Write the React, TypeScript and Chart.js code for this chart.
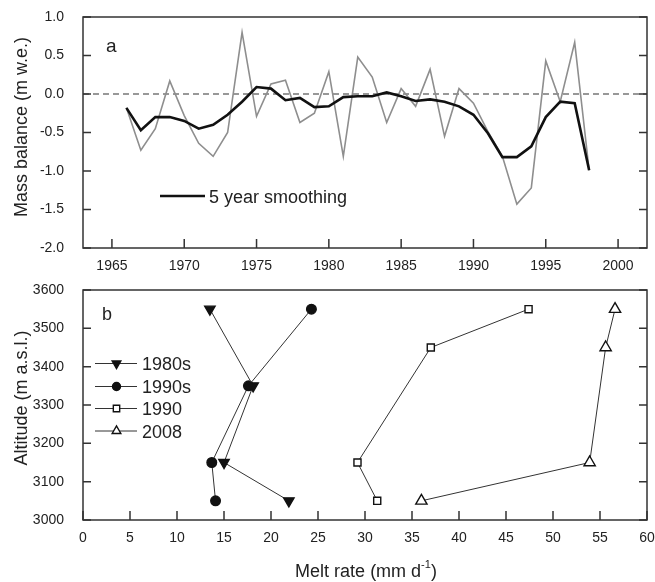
import React, { useEffect, useRef } from "react";
import { Chart, registerables } from "chart.js";

Chart.register(...registerables);

// ---------- Panel a: mass balance ----------
const years = [
  1966, 1967, 1968, 1969, 1970, 1971, 1972, 1973, 1974, 1975, 1976,
  1977, 1978, 1979, 1980, 1981, 1982, 1983, 1984, 1985, 1986, 1987,
  1988, 1989, 1990, 1991, 1992, 1993, 1994, 1995, 1996, 1997, 1998,
];
const annualBalance = [
  -0.18, -0.73, -0.45, 0.17, -0.28, -0.64, -0.81, -0.5, 0.8, -0.29, 0.13,
  0.18, -0.37, -0.25, 0.29, -0.81, 0.48, 0.22, -0.37, 0.07, -0.16, 0.32,
  -0.55, 0.07, -0.12, -0.49, -0.81, -1.43, -1.22, 0.43, -0.1, 0.67, -0.99,
];
const smoothedBalance = [
  -0.18, -0.47, -0.3, -0.3, -0.35, -0.45, -0.4, -0.27, -0.1, 0.09, 0.07,
  -0.08, -0.05, -0.17, -0.16, -0.04, -0.03, -0.03, 0.02, -0.03, -0.09, -0.07,
  -0.1, -0.16, -0.27, -0.51, -0.82, -0.82, -0.68, -0.3, -0.1, -0.12, -0.99,
];
const yearTicks = [1965, 1970, 1975, 1980, 1985, 1990, 1995, 2000];
const smoothLabel = "5 year smoothing";

// ---------- Panel b: melt rate vs altitude ----------
const seriesLabels = ["1980s", "1990s", "1990", "2008"];
const altitudesDecades = [3550, 3350, 3150, 3050];
const altitudesYears = [3550, 3450, 3150, 3050];
const melt1980s = [13.5, 18.1, 15.0, 21.9];
const melt1990s = [24.3, 17.6, 13.7, 14.1];
const melt1990 = [47.4, 37.0, 29.2, 31.3];
const melt2008 = [56.6, 55.6, 53.9, 36.0];

const FONT = "'Liberation Sans', Arial, Helvetica, sans-serif";
const TEXT = "#222";
const FRAME = "#333";

function framePlugin(opts: { zeroLine?: boolean }) {
  return {
    id: "frameTicks",
    beforeDatasetsDraw(chart: any) {
      if (!opts.zeroLine) return;
      const { ctx, chartArea: a, scales } = chart;
      const y0 = scales.y.getPixelForValue(0);
      ctx.save();
      ctx.strokeStyle = "#333";
      ctx.lineWidth = 1.2;
      ctx.setLineDash([6, 4]);
      ctx.beginPath();
      ctx.moveTo(a.left, y0);
      ctx.lineTo(a.right, y0);
      ctx.stroke();
      ctx.restore();
    },
    afterDraw(chart: any) {
      const { ctx, chartArea: a, scales } = chart;
      ctx.save();
      ctx.strokeStyle = FRAME;
      ctx.lineWidth = 1.5;
      ctx.strokeRect(a.left, a.top, a.right - a.left, a.bottom - a.top);
      ctx.beginPath();
      scales.x.ticks.forEach((t: any) => {
        const px = scales.x.getPixelForValue(t.value);
        ctx.moveTo(px, a.bottom);
        ctx.lineTo(px, a.bottom - 9);
      });
      scales.y.ticks.forEach((t: any) => {
        const py = scales.y.getPixelForValue(t.value);
        ctx.moveTo(a.left, py);
        ctx.lineTo(a.left + 8, py);
        ctx.moveTo(a.right, py);
        ctx.lineTo(a.right - 8, py);
      });
      ctx.stroke();
      ctx.restore();
    },
  };
}

function drawMarker(ctx: CanvasRenderingContext2D, style: string, x: number, y: number, r: number, fill: string) {
  ctx.save();
  ctx.fillStyle = fill;
  ctx.strokeStyle = "#111";
  ctx.lineWidth = 1.4;
  ctx.beginPath();
  if (style === "triDown") {
    ctx.moveTo(x - r * 0.866, y - r * 0.5);
    ctx.lineTo(x + r * 0.866, y - r * 0.5);
    ctx.lineTo(x, y + r);
    ctx.closePath();
  } else if (style === "triUp") {
    ctx.moveTo(x - r * 0.866, y + r * 0.5);
    ctx.lineTo(x + r * 0.866, y + r * 0.5);
    ctx.lineTo(x, y - r);
    ctx.closePath();
  } else if (style === "circle") {
    ctx.arc(x, y, r, 0, Math.PI * 2);
  } else {
    const s = r * 0.7071;
    ctx.rect(x - s, y - s, 2 * s, 2 * s);
  }
  ctx.fill();
  ctx.stroke();
  ctx.restore();
}

const topDecor = {
  id: "topDecor",
  afterDraw(chart: any) {
    const ctx = chart.ctx as CanvasRenderingContext2D;
    ctx.save();
    ctx.fillStyle = TEXT;
    ctx.font = `19px ${FONT}`;
    ctx.textBaseline = "alphabetic";
    ctx.fillText("a", 106, 52);
    // legend
    ctx.strokeStyle = "#111";
    ctx.lineWidth = 2.6;
    ctx.beginPath();
    ctx.moveTo(160, 196);
    ctx.lineTo(205, 196);
    ctx.stroke();
    ctx.font = `18px ${FONT}`;
    ctx.fillText(chart.data.datasets[0].label, 209, 203);
    // y title
    ctx.translate(27, 127);
    ctx.rotate(-Math.PI / 2);
    ctx.textAlign = "center";
    ctx.fillText("Mass balance (m w.e.)", 0, 0);
    ctx.restore();
  },
};

const bottomDecor = {
  id: "bottomDecor",
  afterDraw(chart: any) {
    const ctx = chart.ctx as CanvasRenderingContext2D;
    ctx.save();
    ctx.fillStyle = TEXT;
    ctx.font = `18px ${FONT}`;
    ctx.textBaseline = "alphabetic";
    ctx.fillText("b", 102, 45);
    // legend
    const rowsY = [88.5, 111.5, 133.5, 156];
    const styles = ["triDown", "circle", "rect", "triUp"];
    const fills = ["#111", "#111", "#fff", "#fff"];
    const radii = [5, 4, 4.5, 5];
    chart.data.datasets.forEach((ds: any, i: number) => {
      const y = rowsY[i];
      ctx.strokeStyle = "#333";
      ctx.lineWidth = 1;
      ctx.beginPath();
      ctx.moveTo(95, y);
      ctx.lineTo(137, y);
      ctx.stroke();
      drawMarker(ctx, styles[i], 116.5, y, radii[i], fills[i]);
      ctx.fillStyle = TEXT;
      ctx.font = `18px ${FONT}`;
      ctx.fillText(ds.label, 142, y + 6.5);
    });
    // x title with superscript
    const main = "Melt rate (mm d";
    const sup = "-1";
    const end = ")";
    ctx.font = `18px ${FONT}`;
    const wMain = ctx.measureText(main).width;
    const wEnd = ctx.measureText(end).width;
    ctx.font = `11px ${FONT}`;
    const wSup = ctx.measureText(sup).width;
    const total = wMain + wSup + wEnd;
    let x = 366 - total / 2;
    const base = 302;
    ctx.font = `18px ${FONT}`;
    ctx.fillText(main, x, base);
    x += wMain;
    ctx.font = `11px ${FONT}`;
    ctx.fillText(sup, x, base - 9);
    x += wSup;
    ctx.font = `18px ${FONT}`;
    ctx.fillText(end, x, base);
    // y title
    ctx.translate(27, 123);
    ctx.rotate(-Math.PI / 2);
    ctx.textAlign = "center";
    ctx.fillText("Altitude (m a.s.l.)", 0, 0);
    ctx.restore();
  },
};

const tickFont = { family: FONT, size: 14 };

const fitX = (h: number) => (s: any) => {
  s.height = h;
  s.paddingLeft = 0;
  s.paddingRight = 0;
  s.paddingTop = 0;
  s.paddingBottom = 0;
};
const fitY = (w: number) => (s: any) => {
  s.width = w;
  s.paddingLeft = 0;
  s.paddingRight = 0;
  s.paddingTop = 0;
  s.paddingBottom = 0;
};

export default function App() {
  const topRef = useRef<HTMLCanvasElement>(null);
  const botRef = useRef<HTMLCanvasElement>(null);

  useEffect(() => {
    const top = new Chart(topRef.current!, {
      type: "line",
      data: {
        datasets: [
          {
            label: smoothLabel,
            data: years.map((yr, i) => ({ x: yr, y: smoothedBalance[i] })),
            borderColor: "#111",
            borderWidth: 2.6,
            pointRadius: 0,
            order: 0,
          },
          {
            label: "Annual",
            data: years.map((yr, i) => ({ x: yr, y: annualBalance[i] })),
            borderColor: "#8e8e8e",
            borderWidth: 1.6,
            pointRadius: 0,
            order: 1,
          },
        ],
      },
      options: {
        responsive: false,
        animation: false,
        devicePixelRatio: 1,
        layout: { padding: { left: 0, right: 8, top: 17, bottom: 0 } },
        plugins: { legend: { display: false }, tooltip: { enabled: false } },
        scales: {
          x: {
            type: "linear",
            min: 1963,
            max: 2002,
            afterBuildTicks: (s: any) => {
              s.ticks = yearTicks.map((v) => ({ value: v }));
            },
            afterFit: fitX(27),
            grid: { display: false },
            border: { display: false },
            ticks: {
              autoSkip: false,
              maxRotation: 0,
              padding: 2,
              color: TEXT,
              font: tickFont,
              callback: (v: any) => String(v),
            },
          },
          y: {
            type: "linear",
            min: -2,
            max: 1,
            afterFit: fitY(83),
            grid: { display: false },
            border: { display: false },
            ticks: {
              stepSize: 0.5,
              padding: 11,
              color: TEXT,
              font: tickFont,
              callback: (v: any) => Number(v).toFixed(1),
            },
          },
        },
      } as any,
      plugins: [framePlugin({ zeroLine: true }), topDecor],
    });

    const mk = (label: string, xs: number[], ys: number[], style: string, rot: number, fill: string, r: number) => ({
      label,
      data: xs.map((v, i) => ({ x: v, y: ys[i] })),
      borderColor: "#333",
      borderWidth: 1,
      showLine: true,
      pointStyle: style,
      pointRotation: rot,
      pointRadius: r,
      pointBackgroundColor: fill,
      pointBorderColor: "#111",
      pointBorderWidth: 1.4,
    });

    const bottom = new Chart(botRef.current!, {
      type: "line",
      data: {
        datasets: [
          mk(seriesLabels[0], melt1980s, altitudesDecades, "triangle", 180, "#111", 6),
          mk(seriesLabels[1], melt1990s, altitudesDecades, "circle", 0, "#111", 4.8),
          mk(seriesLabels[2], melt1990, altitudesYears, "rect", 0, "#fff", 5),
          mk(seriesLabels[3], melt2008, altitudesYears, "triangle", 0, "#fff", 6.5),
        ],
      },
      options: {
        responsive: false,
        animation: false,
        devicePixelRatio: 1,
        layout: { padding: { left: 0, right: 8, top: 15, bottom: 0 } },
        plugins: { legend: { display: false }, tooltip: { enabled: false } },
        scales: {
          x: {
            type: "linear",
            min: 0,
            max: 60,
            afterFit: fitX(62),
            grid: { display: false },
            border: { display: false },
            ticks: {
              stepSize: 5,
              autoSkip: false,
              maxRotation: 0,
              padding: 2,
              color: TEXT,
              font: tickFont,
              callback: (v: any) => String(v),
            },
          },
          y: {
            type: "linear",
            min: 3000,
            max: 3600,
            afterFit: fitY(83),
            grid: { display: false },
            border: { display: false },
            ticks: {
              stepSize: 100,
              padding: 11,
              color: TEXT,
              font: tickFont,
              callback: (v: any) => String(v),
            },
          },
        },
      } as any,
      plugins: [framePlugin({}), bottomDecor],
    });

    return () => {
      top.destroy();
      bottom.destroy();
    };
  }, []);

  return (
    <div style={{ position: "absolute", left: 0, top: 0, width: 655, height: 582, background: "#fff" }}>
      <canvas
        ref={topRef}
        width={655}
        height={275}
        style={{ position: "absolute", left: 0, top: 0, width: 655, height: 275, display: "block" }}
      />
      <canvas
        ref={botRef}
        width={655}
        height={307}
        style={{ position: "absolute", left: 0, top: 275, width: 655, height: 307, display: "block" }}
      />
    </div>
  );
}
